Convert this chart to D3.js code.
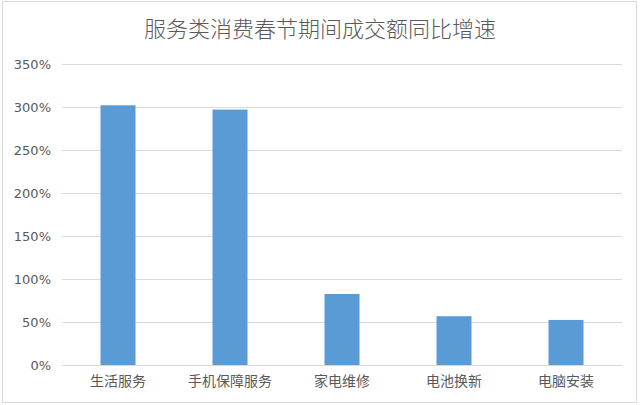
<!DOCTYPE html>
<html>
<head>
<meta charset="utf-8">
<script src="https://cdn.jsdelivr.net/npm/d3@7"></script>
<style>
  body { margin: 0; background: #fff; }
  text { font-family: "Noto Sans CJK SC", "Noto Sans", sans-serif; }
</style>
</head>
<body>
<div id="chart"></div>
<script>
const categories = ["生活服务", "手机保障服务", "家电维修", "电池换新", "电脑安装"];
const growth = [302, 297, 82.6, 56.7, 52.4];   // 同比增速 (%)
const yTicks = [0, 50, 100, 150, 200, 250, 300, 350];
const title = "服务类消费春节期间成交额同比增速";

const width = 640, height = 405,
    margin = {top: 64, right: 18, bottom: 40, left: 62};

const svg = d3.select("#chart").append("svg")
    .attr("width", width)
    .attr("height", height);

// cadre du graphique
svg.append("rect")
    .attr("x", 2.5).attr("y", 1.5)
    .attr("width", width - 6).attr("height", height - 4)
    .attr("fill", "#fff")
    .attr("stroke", "#d9d9d9");

const x = d3.scaleBand()
    .domain(categories)
    .range([margin.left, width - margin.right])
    .paddingInner(0.6875)
    .paddingOuter(0.34375);

const y = d3.scaleLinear()
    .domain([0, 350])
    .range([height - margin.bottom, margin.top]);

svg.append("text")
    .attr("x", width / 2)
    .attr("y", 37)
    .attr("text-anchor", "middle")
    .style("font-size", "22px")
    .style("font-weight", 300)
    .style("fill", "#595959")
    .text(title);

// lignes de grille
const yAxis = svg.append("g")
    .attr("transform", "translate(" + margin.left + ",0)")
    .call(d3.axisLeft(y)
        .tickValues(yTicks)
        .tickSize(-(width - margin.left - margin.right))
        .tickPadding(11)
        .tickFormat(d => d + "%"));
yAxis.select(".domain").remove();
yAxis.selectAll("line").attr("stroke", "#d9d9d9");
yAxis.selectAll("text")
    .style("font-family", "'DejaVu Sans', sans-serif")
    .style("font-size", "13px")
    .style("fill", "#595959");

svg.append("g")
    .selectAll("rect")
    .data(growth)
    .enter()
    .append("rect")
    .attr("x", (d, i) => x(categories[i]))
    .attr("width", x.bandwidth())
    .attr("y", d => y(d))
    .attr("height", d => y(0) - y(d))
    .attr("fill", "#5b9bd5");

const xAxis = svg.append("g")
    .attr("transform", "translate(0," + y(0) + ")")
    .call(d3.axisBottom(x).tickSize(0).tickPadding(11));
xAxis.select(".domain").attr("stroke", "#d9d9d9");
xAxis.selectAll("text")
    .style("font-size", "14px")
    .style("fill", "#595959");
</script>
</body>
</html>
